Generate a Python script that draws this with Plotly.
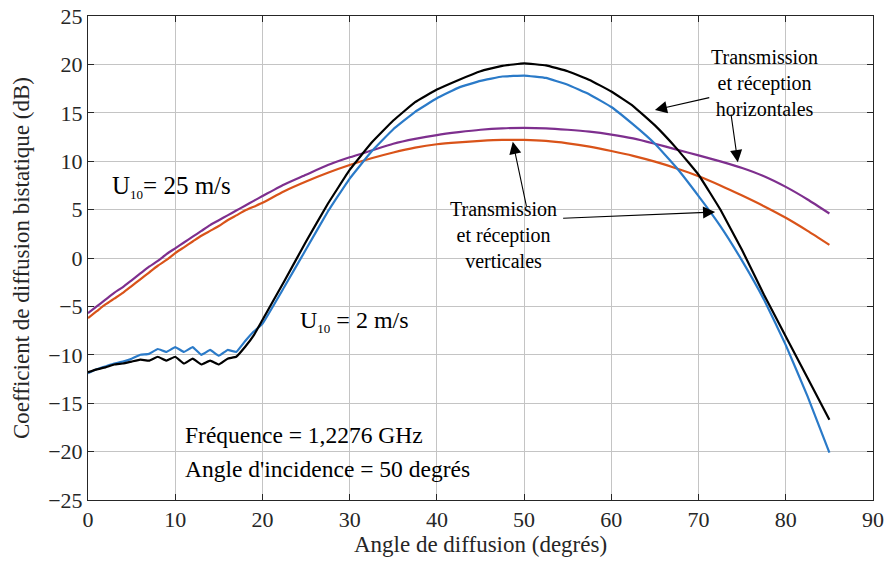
import plotly.graph_objects as go

angles = [0, 1, 2, 3, 4, 5, 6, 7, 8, 9, 10, 11, 12, 13, 14, 15, 16, 17, 18, 19, 20,
          22.5, 25, 27.5, 30, 32.5, 35, 37.5, 40, 42.5, 45, 47.5, 50, 52.5, 55, 57.5,
          60, 62.5, 65, 67.5, 70, 72.5, 75, 77.5, 80, 82.5, 85]

hh_u2 = [-11.8, -11.5, -11.3, -11.0, -10.9, -10.7, -10.5, -10.6, -10.2, -10.6, -10.2,
         -10.9, -10.4, -11.0, -10.6, -11.0, -10.4, -10.2, -9.2, -8.0, -6.4,
         -2.4, 1.7, 5.6, 9.1, 11.9, 14.2, 16.1, 17.4, 18.4, 19.3, 19.85, 20.1, 19.9,
         19.3, 18.4, 17.2, 15.7, 13.7, 11.3, 8.6, 5.0, 0.8, -3.8, -8.1, -12.4, -16.7]

vv_u2 = [-11.9, -11.5, -11.2, -10.9, -10.7, -10.4, -10.0, -9.9, -9.4, -9.7, -9.2,
         -9.7, -9.2, -10.0, -9.5, -10.1, -9.5, -9.7, -8.6, -7.6, -6.8,
         -3.0, 0.9, 4.8, 8.2, 11.0, 13.3, 15.1, 16.5, 17.6, 18.3, 18.75, 18.85, 18.6,
         17.9, 16.9, 15.6, 13.8, 11.8, 9.3, 6.4, 3.3, -0.3, -4.3, -9.0, -14.3, -20.1]

hh_u25 = [-5.7, -5.0, -4.3, -3.6, -3.0, -2.3, -1.6, -0.9, -0.3, 0.4, 1.0,
          1.6, 2.2, 2.8, 3.4, 3.9, 4.4, 4.9, 5.4, 5.9, 6.4,
          7.6, 8.6, 9.6, 10.4, 11.1, 11.8, 12.3, 12.7, 13.0, 13.25, 13.4, 13.45, 13.4,
          13.25, 13.05, 12.75, 12.35, 11.8, 11.2, 10.6, 9.98, 9.3, 8.45, 7.35, 6.05, 4.6]

vv_u25 = [-6.2, -5.5, -4.8, -4.2, -3.6, -2.9, -2.2, -1.5, -0.8, -0.2, 0.5,
          1.1, 1.7, 2.3, 2.8, 3.3, 3.9, 4.4, 4.9, 5.3, 5.7,
          6.9, 7.9, 8.8, 9.6, 10.3, 10.9, 11.4, 11.75, 11.95, 12.1, 12.2, 12.2, 12.1,
          11.85, 11.5, 11.05, 10.55, 9.95, 9.25, 8.45, 7.5, 6.45, 5.35, 4.15, 2.8, 1.35]

x_ticks = [0, 10, 20, 30, 40, 50, 60, 70, 80, 90]
y_ticks = [-25, -20, -15, -10, -5, 0, 5, 10, 15, 20, 25]

FONT = "Liberation Serif"

fig = go.Figure()
series = [
    (hh_u25, "#7E2F8E", "HH U10=25", 0.6),
    (vv_u25, "#D95319", "VV U10=25", 0.6),
    (vv_u2, "#2a7ac8", "VV U10=2", 0.25),
    (hh_u2, "#000000", "HH U10=2", 0.25),
]
for vals, col, name, sm in series:
    fig.add_trace(go.Scatter(x=angles, y=vals, mode="lines", name=name,
                             line=dict(color=col, width=2.2, shape="spline", smoothing=sm),
                             showlegend=False))

def arrow(tip, tail):
    fig.add_annotation(x=tip[0], y=tip[1], ax=tail[0], ay=tail[1],
                       xref="x", yref="y", axref="x", ayref="y", text="",
                       showarrow=True, arrowhead=2, arrowsize=2.2, arrowwidth=1.1,
                       arrowcolor="black")

arrow((65.0, 15.3), (71.4, 16.6))
arrow((74.5, 9.9), (73.7, 15.0))
arrow((48.7, 12.0), (50.3, 5.2))
arrow((71.9, 4.75), (54.3, 4.1))

fig.add_annotation(x=77.6, y=18.1, xref="x", yref="y", showarrow=False,
                   text="Transmission<br>et réception<br>horizontales",
                   font=dict(family=FONT, size=20, color="black"), align="center")
fig.add_annotation(x=47.6, y=2.4, xref="x", yref="y", showarrow=False,
                   text="Transmission<br>et réception<br>verticales",
                   font=dict(family=FONT, size=20, color="black"), align="center")
fig.add_annotation(x=9.6, y=7.3, xref="x", yref="y", showarrow=False,
                   text="U<sub><span style='font-size:13px'>10</span></sub>= 25 m/s",
                   font=dict(family=FONT, size=25, color="black"))
fig.add_annotation(x=30.6, y=-6.6, xref="x", yref="y", showarrow=False,
                   text="U<sub><span style='font-size:13px'>10</span></sub> = 2 m/s",
                   font=dict(family=FONT, size=24, color="black"))
fig.add_annotation(x=10.9, y=-18.3, xref="x", yref="y", showarrow=False, xanchor="left",
                   text="Fréquence = 1,2276 GHz",
                   font=dict(family=FONT, size=23.5, color="black"))
fig.add_annotation(x=10.9, y=-21.8, xref="x", yref="y", showarrow=False, xanchor="left",
                   text="Angle d'incidence = 50 degrés",
                   font=dict(family=FONT, size=23.5, color="black"))

axis_common = dict(showgrid=True, gridcolor="#c4c4c4", gridwidth=1,
                   showline=True, linecolor="#262626", linewidth=1, mirror="ticks",
                   ticks="inside", ticklen=6, tickcolor="#262626",
                   tickfont=dict(family=FONT, size=22, color="#262626"),
                   zeroline=False, automargin=False)

fig.update_xaxes(range=[0, 90], tickvals=x_ticks,
                 title=dict(text="Angle de diffusion (degrés)", standoff=2,
                            font=dict(family=FONT, size=23, color="#262626")),
                 **axis_common)
fig.update_yaxes(range=[-25, 25], tickvals=y_ticks,
                 ticktext=[str(v).replace("-", "−") for v in y_ticks],
                 title=dict(text="Coefficient de diffusion bistatique (dB)", standoff=12,
                            font=dict(family=FONT, size=23, color="#262626")),
                 **axis_common)

fig.update_layout(width=888, height=564, paper_bgcolor="white", plot_bgcolor="white",
                  margin=dict(l=88, r=15, t=16, b=64))

fig.write_html("out.html", config={"displayModeBar": False},
               post_script="document.body.style.margin='0';document.body.style.overflow='hidden';")
